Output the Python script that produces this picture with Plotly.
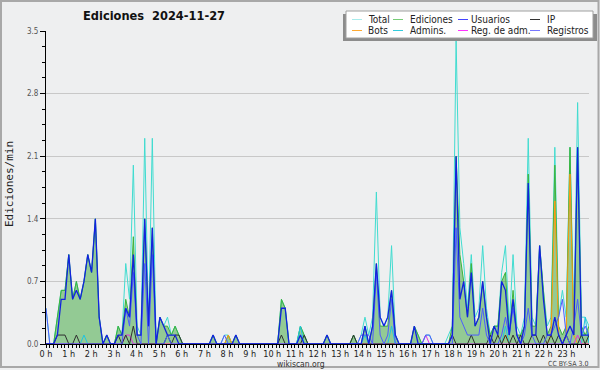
import plotly.graph_objects as go

# ---------------- data (edits per minute, 10-minute samples, 144 per day) ----------------
minutes = list(range(0, 1440, 10))
hour_labels = [f"{h} h" for h in range(24)]
y_ticks = [0.0, 0.7, 1.4, 2.1, 2.8, 3.5]

total = [
    0.4, 0, 0, 0.3, 0.6, 0.6,
    1.0, 0.5, 0.7, 0.5, 0.7, 1.0,
    0.8, 1.4, 0.3, 0, 0.1, 0,
    0, 0.2, 0.1, 0.9, 0.5, 2.0,
    0.2, 0.1, 2.3, 0.2, 2.3, 0,
    0.3, 0.2, 0.3, 0.1, 0.2, 0.1,
    0, 0, 0, 0, 0, 0,
    0, 0, 0.1, 0, 0, 0.1,
    0.1, 0, 0.1, 0, 0, 0,
    0, 0, 0, 0, 0, 0,
    0, 0, 0.5, 0.4, 0, 0,
    0, 0.2, 0.1, 0, 0, 0,
    0, 0, 0.1, 0, 0, 0,
    0, 0, 0, 0.1, 0, 0.1,
    0.3, 0.1, 0.3, 1.7, 0.3, 0.2,
    0.3, 1.1, 0.1, 0, 0, 0,
    0, 0.2, 0.1, 0, 0.1, 0.1,
    0, 0, 0, 0, 0.1, 0.2,
    3.4, 1.3, 0.9, 0.4, 1.0, 0.3,
    0.4, 1.1, 0.4, 0.1, 0.2, 0.2,
    0.8, 1.1, 0.2, 1.0, 0.2, 0.1,
    0.3, 2.3, 0.3, 0.2, 1.1, 0.6,
    0.2, 0.3, 2.2, 0.3, 0.6, 0.3,
    2.2, 0.3, 2.7, 0.3, 0.3, 0.2,
]
ediciones = [
    0, 0, 0, 0.3, 0.6, 0.6,
    1.0, 0.5, 0.7, 0.5, 0.7, 1.0,
    0.8, 1.4, 0.3, 0, 0.1, 0,
    0, 0.2, 0.1, 0.5, 0.3, 1.2,
    0.1, 0.1, 1.4, 0.2, 1.3, 0,
    0.3, 0.2, 0.2, 0.1, 0.2, 0.1,
    0, 0, 0, 0, 0, 0,
    0, 0, 0.1, 0, 0, 0,
    0.1, 0, 0.1, 0, 0, 0,
    0, 0, 0, 0, 0, 0,
    0, 0, 0.5, 0.4, 0, 0,
    0, 0.2, 0.1, 0, 0, 0,
    0, 0, 0.1, 0, 0, 0,
    0, 0, 0, 0.1, 0, 0,
    0.2, 0, 0.2, 0.9, 0.2, 0.2,
    0.2, 0.6, 0.1, 0, 0, 0,
    0, 0.2, 0.1, 0, 0, 0,
    0, 0, 0, 0, 0, 0.2,
    2.1, 1.0, 0.7, 0.3, 0.9, 0.2,
    0.3, 0.7, 0.3, 0.1, 0.2, 0.2,
    0.7, 0.8, 0.1, 0.6, 0.1, 0.1,
    0.2, 1.9, 0.2, 0.2, 1.1, 0.6,
    0.1, 0.2, 2.0, 0.2, 0.1, 0.2,
    2.2, 0.1, 2.2, 0.2, 0.1, 0.2,
]
usuarios = [
    0, 0, 0, 0.1, 0.5, 0.5,
    1.0, 0.5, 0.6, 0.5, 0.7, 1.0,
    0.8, 1.4, 0.3, 0, 0.1, 0,
    0, 0.1, 0.1, 0.4, 0.3, 1.0,
    0.1, 0.1, 1.4, 0.2, 1.3, 0,
    0.3, 0.2, 0.1, 0.1, 0.1, 0,
    0, 0, 0, 0, 0, 0,
    0, 0, 0.1, 0, 0, 0,
    0, 0, 0.1, 0, 0, 0,
    0, 0, 0, 0, 0, 0,
    0, 0, 0.4, 0.4, 0, 0,
    0, 0.1, 0, 0, 0, 0,
    0, 0, 0.1, 0, 0, 0,
    0, 0, 0, 0, 0, 0,
    0.2, 0, 0.2, 0.9, 0.3, 0.2,
    0.3, 0.6, 0.1, 0, 0, 0,
    0, 0.2, 0, 0, 0, 0,
    0, 0, 0, 0, 0, 0.1,
    2.1, 0.5, 0.7, 0.3, 0.8, 0.2,
    0.3, 0.7, 0.3, 0, 0.2, 0.1,
    0.7, 0.6, 0.1, 0.5, 0.1, 0,
    0.2, 1.8, 0.1, 0.1, 1.1, 0.5,
    0.1, 0.1, 0.3, 0.1, 0, 0.1,
    0.2, 0.1, 2.2, 0.1, 0.1, 0.1,
]
ip = [
    0, 0, 0, 0.1, 0.1, 0.1,
    0, 0, 0.1, 0, 0, 0,
    0, 0, 0, 0, 0, 0,
    0, 0.1, 0, 0.1, 0, 0.2,
    0, 0, 0, 0, 0, 0,
    0, 0, 0.1, 0, 0.1, 0.1,
    0, 0, 0, 0, 0, 0,
    0, 0, 0, 0, 0, 0,
    0, 0, 0, 0, 0, 0,
    0, 0, 0, 0, 0, 0,
    0, 0, 0.1, 0, 0, 0,
    0, 0, 0.1, 0, 0, 0,
    0, 0, 0, 0, 0, 0,
    0, 0, 0, 0.1, 0, 0,
    0, 0, 0, 0, 0, 0,
    0, 0, 0, 0, 0, 0,
    0, 0, 0, 0, 0, 0,
    0, 0, 0, 0, 0, 0.1,
    0, 0, 0, 0, 0.1, 0,
    0, 0, 0, 0.1, 0, 0.1,
    0, 0.1, 0, 0.1, 0, 0.1,
    0, 0, 0.1, 0.1, 0, 0.1,
    0, 0.1, 0, 0.1, 0, 0.1,
    0, 0, 0, 0.1, 0, 0.1,
]
bots = [0] * 144
for i, v in {48: 0.1, 121: 0.1, 133: 0.1, 134: 1.6, 135: 0.1, 137: 0.1, 138: 1.9, 139: 0.1}.items():
    bots[i] = v
admins = [0] * 144
for i, v in {10: 0.1, 32: 0.1, 67: 0.2, 84: 0.1, 91: 0.2, 121: 0.2, 142: 0.3}.items():
    admins[i] = v
reg_adm = [0] * 144
for i, v in {21: 0.1, 22: 0.1, 100: 0.1, 140: 0.1}.items():
    reg_adm[i] = v
registros = [0] * 144
for i, v in {0: 0.4, 21: 0.4, 22: 0.2, 23: 0.8, 24: 0.1, 26: 0.9, 28: 1.0, 32: 0.1, 47: 0.1,
             83: 0.1, 84: 0.1, 85: 0.1, 87: 0.8, 88: 0.1, 90: 0.1, 91: 0.5, 100: 0.1, 101: 0.1,
             108: 1.3, 109: 0.3, 110: 0.2, 111: 0.1, 112: 0.1, 113: 0.1, 114: 0.1, 115: 0.4, 116: 0.1,
             120: 0.1, 121: 0.3, 122: 0.1, 123: 0.4, 124: 0.1, 126: 0.1, 127: 0.4, 128: 0.1,
             132: 0.1, 133: 0.1, 134: 0.2, 135: 0.3, 136: 0.5, 137: 0.1,
             139: 0.2, 140: 0.5, 141: 0.1, 142: 0.2, 143: 0.1}.items():
    registros[i] = v

# the chart stretches the 144 samples over the full day width
x = [m / 60 * 1440 / 1430 for m in minutes]

# ---------------- styling ----------------
BG = "#eeeff0"
FONT = "DejaVu Sans Condensed, DejaVu Sans, sans-serif"
series = [
    ("Total", total, "#40dcd0", 1, None),
    ("Ediciones", ediciones, "#3cb43c", 1, "rgba(40,160,40,0.46)"),
    ("Bots", bots, "#ff9a10", 1, None),
    ("Admins.", admins, "#20c4e0", 1, None),
    ("Reg. de adm.", reg_adm, "#e030e0", 1, None),
    ("IP", ip, "#303030", 1, None),
    ("Registros", registros, "#4c5cff", 1, None),
    ("Usuarios", usuarios, "#1222e0", 1.3, None),
]

fig = go.Figure()
for name, vals, col, w, fill in series:
    fig.add_trace(go.Scatter(
        x=x, y=vals, mode="lines", name=name,
        line=dict(color=col, width=w),
        fill="tozeroy" if fill else None,
        fillcolor=fill, showlegend=False, hoverinfo="skip",
    ))

L, R, T, B = 46, 589, 31, 344
W = R - L
H = B - T
def px(v):
    return (v - L) / W
def py(v):
    return (B - v) / H

shapes = []
annotations = []
# outer frame
shapes.append(dict(type="rect", xref="paper", yref="paper", x0=px(1), x1=px(598.5), y0=py(1), y1=py(367),
                   line=dict(color="#a8a8a8", width=2), fillcolor="rgba(0,0,0,0)", layer="above"))
# legend box with shadow
shapes.append(dict(type="rect", xref="paper", yref="paper", x0=px(343), x1=px(597), y0=py(14), y1=py(41),
                   line=dict(width=0), fillcolor="#8c8c8c", layer="above"))
shapes.append(dict(type="rect", xref="paper", yref="paper", x0=px(346), x1=px(593), y0=py(11), y1=py(38),
                   line=dict(color="#a0a0a0", width=1), fillcolor="#ffffff", layer="above"))
legend_items = [
    ("Total", "#a8ecec", 352, 366, 19.5), ("Ediciones", "#77cc77", 393, 408, 19.5),
    ("Usuarios", "#4444ff", 458, 469, 19.5), ("IP", "#333333", 530, 545, 19.5),
    ("Bots", "#ffaa33", 352, 366, 30.5), ("Admins.", "#33ccdd", 393, 408, 30.5),
    ("Reg. de adm.", "#ff33ff", 458, 469, 30.5), ("Registros", "#7777ff", 530, 545, 30.5),
]
for label, col, lx, tx, ly in legend_items:
    shapes.append(dict(type="line", xref="paper", yref="paper", x0=px(lx), x1=px(lx + 10),
                       y0=py(ly), y1=py(ly), line=dict(color=col, width=1), layer="above"))
    annotations.append(dict(text=label, xref="paper", yref="paper", x=px(tx), y=py(ly),
                            xanchor="left", yanchor="middle", showarrow=False,
                            font=dict(family=FONT, size=10, color="#222")))

annotations.append(dict(text="<b>Ediciones  2024-11-27</b>", xref="paper", yref="paper",
                        x=px(154), y=py(16), xanchor="center", yanchor="middle", showarrow=False,
                        font=dict(family=FONT, size=12.7, color="#111")))
annotations.append(dict(text="Ediciones/min", xref="paper", yref="paper", x=px(9), y=py(184),
                        xanchor="center", yanchor="middle", textangle=-90, showarrow=False,
                        font=dict(family="DejaVu Sans Mono, monospace", size=11, color="#222")))
annotations.append(dict(text="wikiscan.org", xref="paper", yref="paper", x=px(300.5), y=py(363.5),
                        xanchor="center", yanchor="middle", showarrow=False, borderpad=0,
                        font=dict(family=FONT, size=8.5, color="#333")))
annotations.append(dict(text="CC BY-SA 3.0", xref="paper", yref="paper", x=px(589), y=py(364),
                        xanchor="right", yanchor="middle", showarrow=False, borderpad=0,
                        font=dict(family=FONT, size=7, color="#444")))

fig.update_layout(
    width=600, height=370,
    margin=dict(l=L, r=600 - R, t=T, b=370 - B),
    paper_bgcolor=BG, plot_bgcolor=BG,
    showlegend=False,
    shapes=shapes, annotations=annotations,
    xaxis=dict(
        range=[0, 24], tickmode="array", tickvals=list(range(24)), ticktext=hour_labels,
        ticks="outside", ticklen=3, tickcolor="#000", tickwidth=1, ticklabelstandoff=-2,
        minor=dict(tickmode="array", tickvals=[m / 60 for m in range(0, 1441, 10)],
                   ticks="outside", ticklen=3, tickcolor="#000", tickwidth=1),
        showline=True, linecolor="#000", linewidth=1, showgrid=False, zeroline=False,
        tickfont=dict(family=FONT, size=9, color="#222"), fixedrange=True,
    ),
    yaxis=dict(
        range=[0, 3.5], tickmode="array", tickvals=y_ticks, ticktext=[f"{v:.1f}" for v in y_ticks],
        ticks="outside", ticklen=5, tickcolor="#000", tickwidth=1,
        minor=dict(dtick=0.175, ticks="outside", ticklen=3, tickcolor="#000", showgrid=False),
        showline=True, linecolor="#000", linewidth=1, showgrid=True, gridcolor="#c8c8c8", gridwidth=1,
        zeroline=False, tickfont=dict(family=FONT, size=8, color="#555"),
    ),
)
fig.write_html("out.html")
